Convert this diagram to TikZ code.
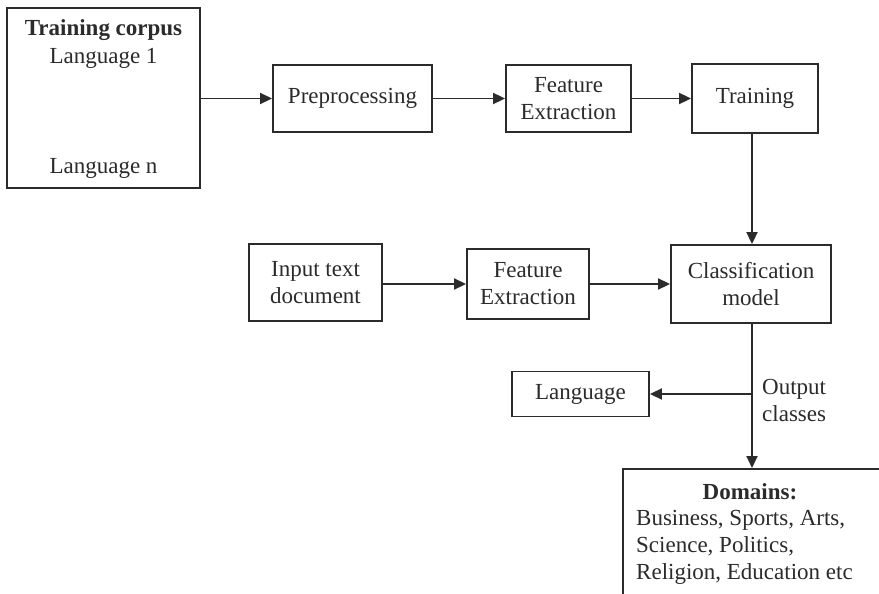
\documentclass[tikz,border=0pt]{standalone}
\usepackage{fontspec}
\setmainfont{Liberation Serif}
\usetikzlibrary{arrows.meta}
\definecolor{ink}{HTML}{2B2B2B}
\begin{document}
\begin{tikzpicture}[x=1pt,y=1pt,
  every node/.style={font=\fontsize{23}{27}\selectfont, text=ink},
  blk/.style={draw=ink, line width=1.9pt, align=center, inner sep=0pt},
  txt/.style={inner sep=0pt},
  flow/.style={draw=ink, line width=1.9pt, -{Triangle[length=12pt,width=11pt]}},
  link/.style={draw=ink, line width=1.9pt}]
\useasboundingbox (0,0) rectangle (879,-594);
\clip (0,0) rectangle (879,-594);
\fill[white] (0,0) rectangle (879,-594);

% training corpus
\node[blk, minimum width=193pt, minimum height=180pt] (corpus) at (103.5,-98) {};
\node[txt, font=\fontsize{23}{27}\selectfont\bfseries] (title) at (103.5,-30) {Training corpus};
\node[txt] (lang1) at (103.5,-58) {Language 1};
\node[txt] (langn) at (103.5,-168) {Language n};

% upper row
\node[blk, minimum width=159pt, minimum height=67pt] (prep) at (352.5,-98.5) {Preprocessing};
\node[blk, minimum width=125pt, minimum height=67pt] (fe1) at (568.5,-98.5) {Feature\\Extraction};
\node[blk, minimum width=126pt, minimum height=69pt] (train) at (755,-98.5) {Training};

% middle row
\node[blk, minimum width=133pt, minimum height=77pt] (input) at (315.5,-282.5) {Input text\\document};
\node[blk, minimum width=122pt, minimum height=70pt] (fe2) at (528,-284) {Feature\\Extraction};
\node[blk, minimum width=160pt, minimum height=78pt] (class) at (751,-284) {Classification\\model};

% outputs
\node[blk, minimum width=137pt, minimum height=45pt] (lang) at (580.5,-394) {Language};
\node[blk, anchor=north west, minimum width=280pt, minimum height=140pt] (domains) at (622,-468) {};
\node[txt, font=\fontsize{23}{27}\selectfont\bfseries] (dtitle) at (750,-492) {Domains:};
\node[txt, anchor=north west, align=left] (dlist) at (636,-510) {Business, Sports, Arts,\\Science, Politics,\\Religion, Education etc};

\coordinate (split) at (752,-394);
\node[txt, anchor=west, align=left] (outcls) at (762,-400) {Output\\classes};

% connectors
\draw[flow] (corpus.east |- prep.west) -- (prep.west);
\draw[flow] (prep) -- (fe1);
\draw[flow] (fe1) -- (train);
\draw[flow] (split |- train.south) -- (split |- class.north);
\draw[flow] (input.east |- fe2.west) -- (fe2.west);
\draw[flow] (fe2) -- (class.west |- fe2.east);
\draw[link] (split |- class.south) -- (split);
\draw[flow] (split) -- (lang.east);
\draw[flow] (split) -- (split |- domains.north);
\end{tikzpicture}
\end{document}
